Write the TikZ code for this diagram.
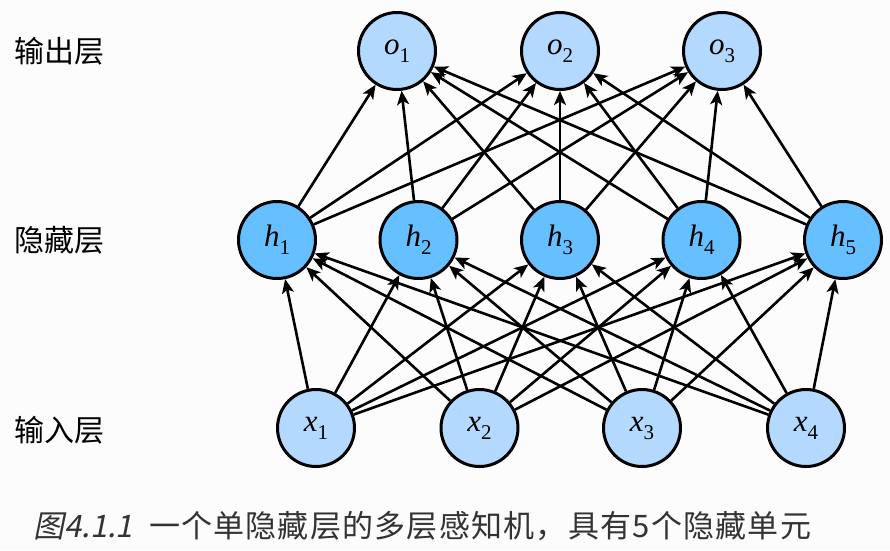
\RequirePackage{fix-cm}
\documentclass[tikz,border=0pt]{standalone}
\usepackage{fontspec}
\newfontfamily\cjk{Noto Sans CJK SC}
\newfontfamily\cjkcap[LetterSpace=4]{Noto Sans CJK SC}
\newfontfamily\cjkit[FakeSlant=0.2]{Noto Sans CJK SC}
\newfontfamily\lbs{Liberation Serif}
\newcommand\nlab[2]{{\lbs\itshape #1}\raisebox{-8pt}{\lbs\fontsize{21}{21}\selectfont #2}}
\usetikzlibrary{arrows.meta}
\definecolor{lightb}{HTML}{B3D9FF}
\definecolor{hidb}{HTML}{66BFFF}
\definecolor{bgc}{HTML}{FCFCFC}
\definecolor{capc}{HTML}{333333}
\begin{document}
\begin{tikzpicture}[x=1pt,y=-1pt,
  neuron/.style={circle, draw=black, line width=3pt, minimum size=77pt, inner sep=0pt,
    font=\fontsize{31}{31}\selectfont},
  inneuron/.style={neuron, fill=lightb},
  hidneuron/.style={neuron, fill=hidb},
  conn/.style={line width=2.6pt, -{Stealth[length=14pt,width=12pt,inset=3.5pt]}},
  layerlabel/.style={anchor=west, inner sep=0pt, font=\cjk\fontsize{30}{32}\selectfont}]
\fill[bgc] (0,0) rectangle (890,550);
\useasboundingbox (0,0) rectangle (890,550);
% output layer
\node[inneuron] (o1) at (397,51) {\nlab{o}{1}};
\node[inneuron] (o2) at (560,51) {\nlab{o}{2}};
\node[inneuron] (o3) at (722,51) {\nlab{o}{3}};
% hidden layer
\node[hidneuron] (h1) at (277,240) {\nlab{h}{1}};
\node[hidneuron] (h2) at (418.5,240) {\nlab{h}{2}};
\node[hidneuron] (h3) at (560,240) {\nlab{h}{3}};
\node[hidneuron] (h4) at (701.5,240) {\nlab{h}{4}};
\node[hidneuron] (h5) at (843,240) {\nlab{h}{5}};
% input layer
\node[inneuron] (x1) at (316,428) {\nlab{x}{1}};
\node[inneuron] (x2) at (479.5,428) {\nlab{x}{2}};
\node[inneuron] (x3) at (642,428) {\nlab{x}{3}};
\node[inneuron] (x4) at (806,428) {\nlab{x}{4}};
% connections
\foreach \i in {1,...,4}
  \foreach \j in {1,...,5}
    \draw[conn] (x\i) -- (h\j);
\foreach \j in {1,...,5}
  \foreach \k in {1,2,3}
    \draw[conn] (h\j) -- (o\k);
% layer labels
\node[layerlabel] (l1) at (14,51) {输出层};
\node[layerlabel] (l2) at (14,240) {隐藏层};
\node[layerlabel] (l3) at (14,430) {输入层};
% caption
\node[anchor=base west, inner sep=0pt, text=capc, font=\fontsize{31}{34}\selectfont] (cap) at (33,537)
  {{\cjkit 图4.1.1}\hspace{16pt}{\cjkcap 一个单隐藏层的多层感知机，具有5个隐藏单元}};
\end{tikzpicture}
\end{document}
